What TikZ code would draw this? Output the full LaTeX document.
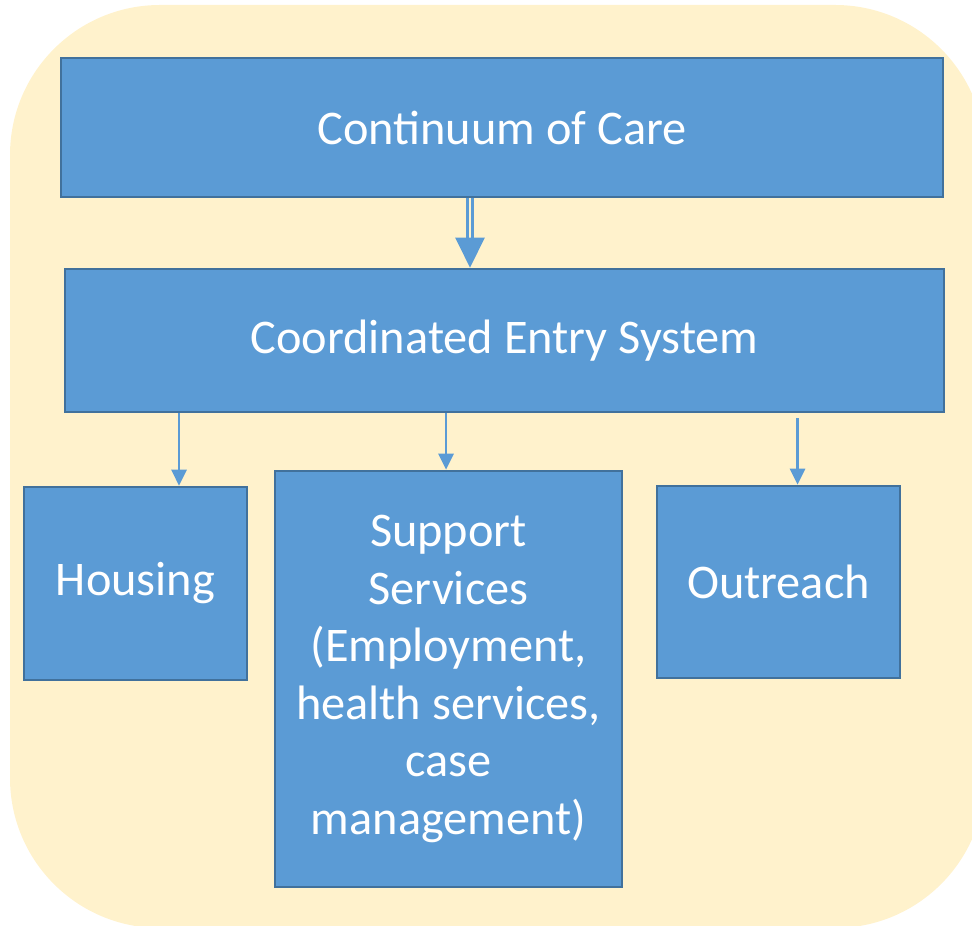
\documentclass[tikz,border=0pt]{standalone}
\usepackage{fontspec}
\setmainfont{Carlito}
\usepackage{tikz}
\usetikzlibrary{arrows.meta,positioning}
\definecolor{boxblue}{HTML}{5B9BD5}
\definecolor{boxline}{HTML}{41719C}
\definecolor{bgyellow}{HTML}{FFF2CC}
\tikzset{
    box/.style={draw=boxline, line width=1.5pt, fill=boxblue, text=white,
        align=center, inner sep=0pt, font=\fontsize{27.5}{32.8}\selectfont},
    arr/.style={draw=boxblue, line width=1.6pt, -{Triangle[width=0.3cm,length=0.32cm]}},
    dbl/.style={draw=boxblue, line width=1.5pt, double=bgyellow, double distance=1.5pt,
        -{Triangle[width=0.58cm,length=0.6cm]}}
}
\begin{document}
\begin{tikzpicture}
\clip (0,0) rectangle (19.44,18.5);
% background panel
\fill [bgyellow, rounded corners=3cm] (0.2,-0.06) rectangle (19.7,18.4);
% top boxes
\node [box, minimum width=17.64cm, minimum height=2.78cm] (coc) at (10.04,15.95) {Continuum of Care};
\node [box, minimum width=17.58cm, minimum height=2.86cm] (ces) at (10.09,11.69) {Coordinated Entry System};
% lower boxes
\node [box, minimum width=4.46cm, minimum height=3.86cm] (housing) at (2.71,6.83) {Housing};
\node [box, minimum width=6.94cm, minimum height=8.32cm] (support) at (8.97,4.92)
    {Support\\Services\\(Employment,\\health services,\\case\\management)};
\node [box, minimum width=4.86cm, minimum height=3.84cm] (outreach) at (15.57,6.86) {Outreach};
% arrows
\coordinate (dx) at (9.4,0);
\coordinate (hx) at (3.58,0);
\coordinate (sx) at (8.92,0);
\coordinate (ox) at (15.95,0);
\draw [dbl] (coc.south -| dx) -- (ces.north -| dx);
\draw [arr] (ces.south -| hx) -- (housing.north -| hx);
\draw [arr] (ces.south -| sx) -- (support.north -| sx);
\draw [arr] ([yshift=-0.1cm]ces.south -| ox) -- (outreach.north -| ox);
\end{tikzpicture}
\end{document}
